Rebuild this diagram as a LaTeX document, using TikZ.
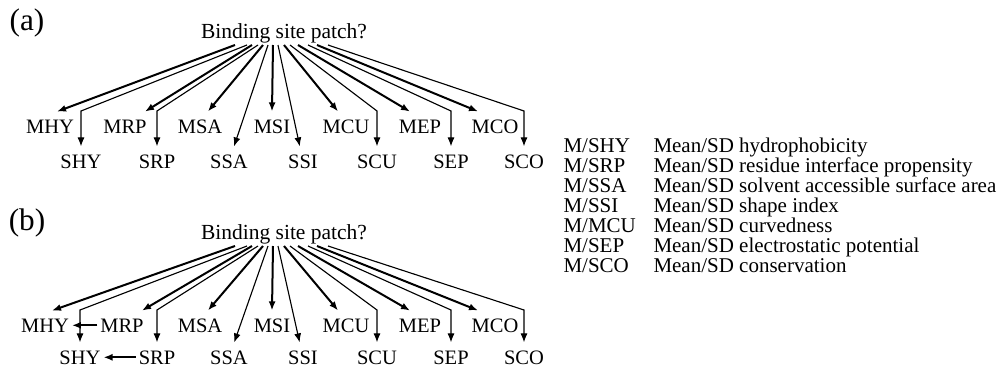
\documentclass[tikz,border=0pt]{standalone}
\usepackage{fontspec}
\setmainfont{Liberation Serif}
\usetikzlibrary{arrows.meta,calc}

\begin{document}
\begin{tikzpicture}[x=0.4pt,y=-0.4pt]
  \useasboundingbox (0,0) rectangle (1001,367);

  % panel labels
  \node[font=\fontsize{12.5}{14}\selectfont] (alab) at (27,23)  {(a)};
  \node[font=\fontsize{12.5}{14}\selectfont] (blab) at (27,223) {(b)};

  \coordinate (abend) at (0,111);
  \coordinate (bbend) at (0,310);

  \begin{scope}[every node/.style={anchor=base, inner xsep=1pt, inner ysep=3pt, font=\fontsize{8.2}{9}\selectfont}]
    % (a)
    \node[font=\fontsize{8.6}{10}\selectfont] (aroot) at (284,38) {Binding site patch?};
    \node (aMHY) at (50,133)  {MHY};
    \node (aMRP) at (125,133) {MRP};
    \node (aMSA) at (200,133) {MSA};
    \node (aMSI) at (272,133) {MSI};
    \node (aMCU) at (346,133) {MCU};
    \node (aMEP) at (420,133) {MEP};
    \node (aMCO) at (495,133) {MCO};
    \node (aSHY) at (81,168)  {SHY};
    \node (aSRP) at (157,168) {SRP};
    \node (aSSA) at (229,168) {SSA};
    \node (aSSI) at (303,168) {SSI};
    \node (aSCU) at (377,168) {SCU};
    \node (aSEP) at (451,168) {SEP};
    \node (aSCO) at (524,168) {SCO};
    % (b)
    \node[font=\fontsize{8.6}{10}\selectfont] (broot) at (284,239) {Binding site patch?};
    \node (bMHY) at (45,332)  {MHY};
    \node (bMRP) at (122,332) {MRP};
    \node (bMSA) at (200,332) {MSA};
    \node (bMSI) at (272,332) {MSI};
    \node (bMCU) at (346,332) {MCU};
    \node (bMEP) at (420,332) {MEP};
    \node (bMCO) at (495,332) {MCO};
    \node (bSHY) at (80,364)  {SHY};
    \node (bSRP) at (157,364) {SRP};
    \node (bSSA) at (229,364) {SSA};
    \node (bSSI) at (303,364) {SSI};
    \node (bSCU) at (377,364) {SCU};
    \node (bSEP) at (451,364) {SEP};
    \node (bSCO) at (524,364) {SCO};
  \end{scope}

  % mean arrows
  \begin{scope}[every edge/.style={draw, line width=0.8pt, -{Latex[length=3.6pt,width=2.8pt]}}]
    \path (aroot.base) ++(-49,7) edge ($(aMHY.north)+(7,0)$);
    \path (aroot.base) ++(-32,7) edge ($(aMRP.north)+(20,0)$);
    \path (aroot.base) ++(-21,7) edge ($(aMSA.north)+(8,0)$);
    \path (aroot.base) ++(-11,7) edge (aMSI.north);
    \path (aroot.base) ++(0,7)   edge ($(aMCU.north)+(-8,0)$);
    \path (aroot.base) ++(14,7)  edge ($(aMEP.north)+(-10,0)$);
    \path (aroot.base) ++(33,7)  edge ($(aMCO.north)+(-17,0)$);

    \path (broot.base) ++(-49,7) edge ($(bMHY.north)+(7,0)$);
    \path (broot.base) ++(-32,7) edge ($(bMRP.north)+(20,0)$);
    \path (broot.base) ++(-21,7) edge ($(bMSA.north)+(8,0)$);
    \path (broot.base) ++(-11,7) edge (bMSI.north);
    \path (broot.base) ++(0,7)   edge ($(bMCU.north)+(-8,0)$);
    \path (broot.base) ++(14,7)  edge ($(bMEP.north)+(-10,0)$);
    \path (broot.base) ++(33,7)  edge ($(bMCO.north)+(-17,0)$);

    % dependencies in (b)
    \path (bMRP) edge (bMHY);
    \path (bSRP) edge (bSHY);
  \end{scope}

  % SD arrows
  \begin{scope}[line width=0.45pt, -{Latex[length=3.6pt,width=2.8pt]}]
    \draw (aroot.base) ++(-37,7) -- (aSHY |- abend) -- (aSHY);
    \draw (aroot.base) ++(-26,7) -- (aSRP |- abend) -- (aSRP);
    \draw (aroot.base) ++(-16,7) -- (aSSA);
    \draw (aroot.base) ++(-6,7)  -- (aSSI);
    \draw (aroot.base) ++(6,7)   -- (aSCU |- abend) -- (aSCU);
    \draw (aroot.base) ++(24,7)  -- (aSEP |- abend) -- (aSEP);
    \draw (aroot.base) ++(44,7)  -- (aSCO |- abend) -- (aSCO);

    \draw (broot.base) ++(-37,7) -- (bSHY |- bbend) -- (bSHY);
    \draw (broot.base) ++(-26,7) -- (bSRP |- bbend) -- (bSRP);
    \draw (broot.base) ++(-16,7) -- (bSSA);
    \draw (broot.base) ++(-6,7)  -- (bSSI);
    \draw (broot.base) ++(6,7)   -- (bSCU |- bbend) -- (bSCU);
    \draw (broot.base) ++(24,7)  -- (bSEP |- bbend) -- (bSEP);
    \draw (broot.base) ++(44,7)  -- (bSCO |- bbend) -- (bSCO);
  \end{scope}

  % legend
  \begin{scope}[every node/.style={anchor=base west, inner sep=0pt, font=\fontsize{8.4}{10}\selectfont}]
    \node (k1) at (563,152) {M/SHY};  \node (v1) at (653,152) {Mean/SD hydrophobicity};
    \node (k2) at (563,172) {M/SRP};  \node (v2) at (653,172) {Mean/SD residue interface propensity};
    \node (k3) at (563,192) {M/SSA};  \node (v3) at (653,192) {Mean/SD solvent accessible surface area};
    \node (k4) at (563,212) {M/SSI};  \node (v4) at (653,212) {Mean/SD shape index};
    \node (k5) at (563,232) {M/MCU};  \node (v5) at (653,232) {Mean/SD curvedness};
    \node (k6) at (563,252) {M/SEP};  \node (v6) at (653,252) {Mean/SD electrostatic potential};
    \node (k7) at (563,272) {M/SCO};  \node (v7) at (653,272) {Mean/SD conservation};
  \end{scope}

\end{tikzpicture}
\end{document}
